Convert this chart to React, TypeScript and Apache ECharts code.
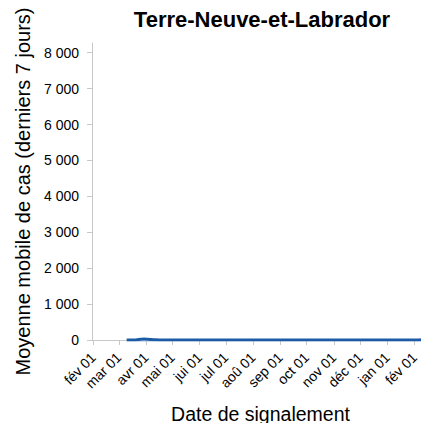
import React, { useEffect, useRef } from "react";
import * as echarts from "echarts";

const dates = [
  "2020-03-10", "2020-03-14", "2020-03-18", "2020-03-22", "2020-03-26", "2020-03-30",
  "2020-04-03", "2020-04-07", "2020-04-12", "2020-04-18", "2020-04-25", "2020-05-05",
  "2020-05-20", "2020-06-10", "2020-07-01", "2020-07-20", "2020-08-10", "2020-08-25",
  "2020-09-15", "2020-10-05", "2020-10-25", "2020-11-10", "2020-11-25", "2020-12-10",
  "2020-12-25", "2021-01-10", "2021-01-25", "2021-02-05", "2021-02-09", "2021-02-12",
  "2021-02-14", "2021-02-16", "2021-02-18",
];
const cases = [
  0, 0.4, 2, 8, 20, 26, 18, 12, 5, 2, 1, 0.3, 0.1, 0.3, 0.3, 0.4, 0.6, 0.7, 0.6, 0.9,
  0.9, 1.1, 1.5, 2.2, 2.3, 1.6, 1.6, 2.7, 7, 25, 40, 60, 70,
];
const tickMonths = [
  "2020-02-01", "2020-03-01", "2020-04-01", "2020-05-01", "2020-06-01", "2020-07-01",
  "2020-08-01", "2020-09-01", "2020-10-01", "2020-11-01", "2020-12-01", "2021-01-01",
  "2021-02-01",
];
const monthLabels = ["jan", "fév", "mar", "avr", "mai", "jui", "jul", "aoû", "sep", "oct", "nov", "déc"];
const yTicks = [0, 1000, 2000, 3000, 4000, 5000, 6000, 7000, 8000];

const ts = (d: string) => Date.parse(d + "T00:00:00Z");
const fmtNum = (v: number) => String(v).replace(/\B(?=(\d{3})+(?!\d))/g, "\u00a0");
const FONT = "Liberation Sans, Arial, sans-serif";

export default function App() {
  const ref = useRef<HTMLDivElement>(null);
  useEffect(() => {
    if (!ref.current) return;
    const chart = echarts.init(ref.current, undefined, { renderer: "svg" });
    const tickVals = tickMonths.map(ts);
    chart.setOption({
      animation: false,
      title: {
        text: "Terre-Neuve-et-Labrador",
        left: 262,
        top: 8,
        padding: 0,
        textAlign: "center",
        textStyle: { fontFamily: FONT, fontSize: 22, fontWeight: "bold", color: "#000" },
      },
      grid: { left: 92, right: 0, top: 43, bottom: 91, containLabel: false },
      xAxis: {
        type: "value",
        min: ts("2020-01-30") + 12 * 3600 * 1000,
        max: ts("2021-02-17") + 12 * 3600 * 1000,
        name: "Date de signalement",
        nameLocation: "middle",
        nameGap: 64,
        nameTextStyle: { fontFamily: FONT, fontSize: 19.5, color: "#000" },
        axisLine: { lineStyle: { color: "#c8c8c8", width: 1 } },
        axisTick: { show: true, length: 5, lineStyle: { color: "#c8c8c8" }, customValues: tickVals },
        axisLabel: {
          customValues: tickVals,
          rotate: 45,
          fontFamily: FONT,
          fontSize: 14,
          color: "#000",
          margin: 15,
          formatter: (v: number) => monthLabels[new Date(v).getUTCMonth()] + " 01",
        },
        splitLine: { show: false },
      },
      yAxis: {
        type: "value",
        min: 0,
        max: 8270,
        interval: 1000,
        name: "Moyenne mobile de cas (derniers 7 jours)",
        nameLocation: "middle",
        nameGap: 58,
        nameTextStyle: { fontFamily: FONT, fontSize: 20, color: "#000" },
        axisLine: { show: true, lineStyle: { color: "#c8c8c8", width: 1 } },
        axisTick: { show: true, length: 5, lineStyle: { color: "#c8c8c8" } },
        axisLabel: {
          showMaxLabel: false,
          fontFamily: FONT,
          fontSize: 14,
          color: "#000",
          margin: 13,
          formatter: (v: number) => (yTicks.includes(v) ? fmtNum(v) : ""),
        },
        splitLine: { show: false },
      },
      series: [
        {
          type: "line",
          data: dates.map((d, i) => [ts(d), cases[i]]),
          showSymbol: false,
          smooth: true,
          lineStyle: {
            color: "#1f5ca6",
            width: 3,
            shadowColor: "#9cc2e6",
            shadowBlur: 0,
            shadowOffsetY: 2,
          },
          areaStyle: { color: "#9cc2e6", opacity: 1 },
        },
      ],
    });
    return () => chart.dispose();
  }, []);
  return <div ref={ref} style={{ width: 429, height: 431, margin: -8 }} />;
}
